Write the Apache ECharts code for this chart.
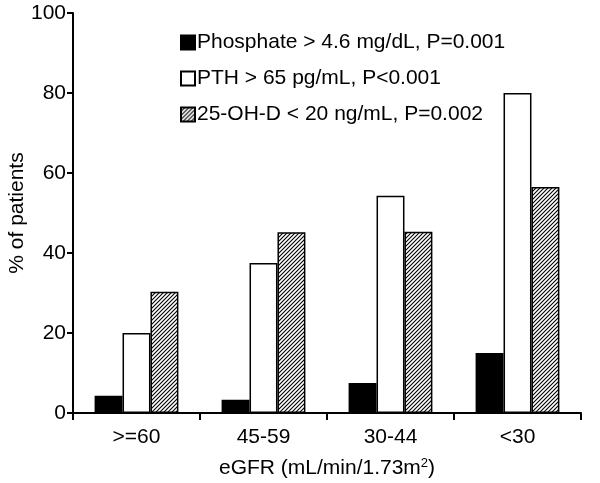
<!DOCTYPE html>
<html>
<head>
<meta charset="utf-8">
<script src="https://cdn.jsdelivr.net/npm/echarts@6/dist/echarts.min.js"></script>
<style>
  html, body { margin: 0; padding: 0; background: #fff; }
  #main { width: 600px; height: 483px; }
</style>
</head>
<body>
<div id="main"></div>
<script>
var categories = ['>=60', '45-59', '30-44', '<30']
var phosphate = [4.3, 3.3, 7.5, 15]
var pth = [20, 37.5, 54.3, 80]
var vitD = [30.3, 45.2, 45.3, 56.5]
var seriesNames = [
  'Phosphate > 4.6 mg/dL, P=0.001',
  'PTH > 65 pg/mL, P<0.001',
  '25-OH-D < 20 ng/mL, P=0.002'
]

// hatch pattern for 25-OH-D bars
function makeHatch() {
  var c = document.createElement('canvas')
  c.width = 4
  c.height = 4
  var ctx = c.getContext('2d')
  ctx.fillStyle = '#fff'
  ctx.fillRect(0, 0, 4, 4)
  ctx.strokeStyle = '#000'
  ctx.lineWidth = 1.1
  ctx.beginPath()
  ctx.moveTo(0, 4); ctx.lineTo(4, 0)
  ctx.moveTo(-1, 1); ctx.lineTo(1, -1)
  ctx.moveTo(3, 5); ctx.lineTo(5, 3)
  ctx.stroke()
  return c
}

var font = 'Liberation Sans, Arial, Helvetica, sans-serif'
var chart = echarts.init(document.getElementById('main'))
var hatch = { image: makeHatch(), repeat: 'repeat' }

var option = {
  animation: false,
  textStyle: { fontFamily: font, color: '#000' },
  legend: {
    orient: 'vertical',
    left: 175,
    top: 27,
    icon: 'rect',
    itemWidth: 14,
    itemHeight: 14,
    itemGap: 15,
    textStyle: { fontSize: 21, color: '#000', fontFamily: font, padding: [0, 0, 0, -3] },
    data: seriesNames
  },
  grid: { left: 73, right: 19, top: 13, bottom: 70, outerBoundsMode: 'none', containLabel: false },
  xAxis: {
    type: 'category',
    data: categories,
    name: 'eGFR (mL/min/1.73m{sup|2})',
    nameLocation: 'middle',
    nameGap: 44,
    nameTextStyle: {
      fontSize: 21, color: '#000', fontFamily: font,
      rich: { sup: { fontSize: 13, verticalAlign: 'top', padding: [0, 0, 10, 0], fontFamily: font } }
    },
    axisLine: { lineStyle: { color: '#000', width: 2 } },
    axisTick: { show: true, alignWithLabel: false, length: 7, inside: false, lineStyle: { color: '#000', width: 2 } },
    axisLabel: { fontSize: 21, color: '#000', margin: 14, fontFamily: font }
  },
  yAxis: {
    type: 'value',
    min: 0,
    max: 100,
    interval: 20,
    name: '% of patients',
    nameLocation: 'middle',
    nameGap: 45,
    nameMoveOverlap: false,
    nameTextStyle: { fontSize: 21, color: '#000', fontFamily: font },
    axisLine: { show: true, lineStyle: { color: '#000', width: 2 } },
    axisTick: { show: true, length: 6, lineStyle: { color: '#000', width: 2 } },
    axisLabel: { fontSize: 21, color: '#000', margin: 7, fontFamily: font },
    splitLine: { show: false }
  },
  series: [
    {
      name: seriesNames[0],
      type: 'bar',
      data: phosphate,
      barGap: '0%',
      barCategoryGap: '34%',
      itemStyle: { color: '#000', borderColor: '#000', borderWidth: 1.5 }
    },
    {
      name: seriesNames[1],
      type: 'bar',
      data: pth,
      itemStyle: { color: '#fff', borderColor: '#000', borderWidth: 1.5 }
    },
    {
      name: seriesNames[2],
      type: 'bar',
      data: vitD,
      itemStyle: { color: hatch, borderColor: '#000', borderWidth: 1.5 }
    }
  ]
}
option && chart.setOption(option)
</script>
</body>
</html>
